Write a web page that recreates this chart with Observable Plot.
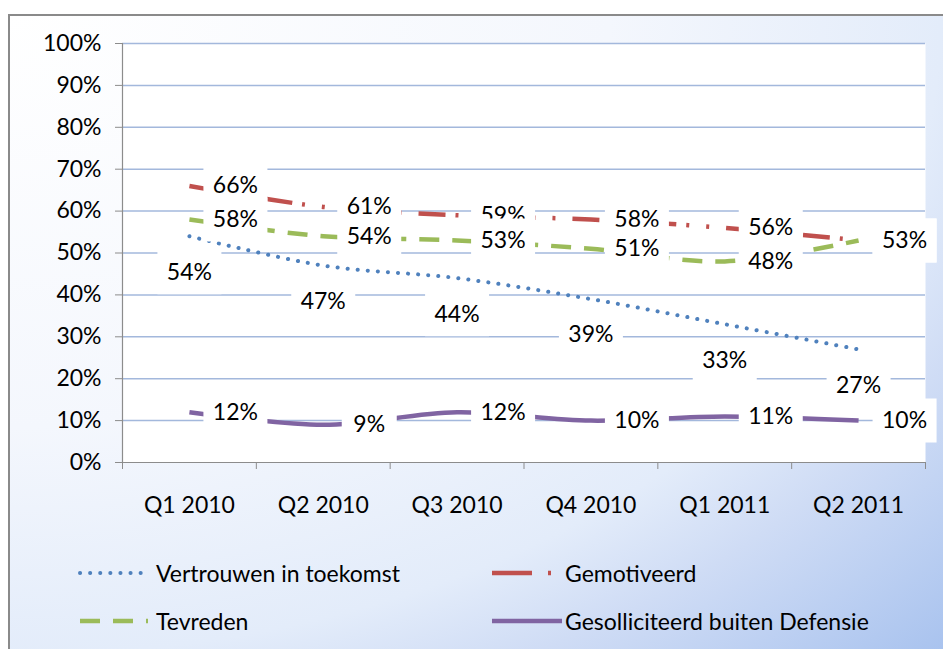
<!DOCTYPE html>
<html>
<head>
<meta charset="utf-8">
<script src="https://cdn.jsdelivr.net/npm/d3@7"></script>
<script src="https://cdn.jsdelivr.net/npm/@observablehq/plot@0.6"></script>
<style>
  html, body { margin: 0; padding: 0; background: #fff; overflow: hidden; }
  body { width: 943px; height: 649px; position: relative; font-family: Lato, "Open Sans", sans-serif; }
  #frame {
    position: absolute; left: 8px; top: 14px; width: 945px; height: 650px;
    box-sizing: border-box; border: 2px solid #8a8a8a;
    background: radial-gradient(ellipse farthest-corner at top left, #ffffff 0%, #f4f7fd 45%, #e3ecfa 70%, #cfdcf5 80%, #a6c1ee 100%);
  }
  #frame svg { position: absolute; left: 0; top: 0; overflow: visible; }
  .leg { position: absolute; display: flex; align-items: center; font-size: 23px; color: #000; white-space: nowrap; }
  .leg svg { position: static !important; }
</style>
</head>
<body>
<div id="frame"></div>
<script>
const quarters = ["Q1 2010", "Q2 2010", "Q3 2010", "Q4 2010", "Q1 2011", "Q2 2011"];
const vertrouwen = [0.54, 0.47, 0.44, 0.39, 0.33, 0.27];
const gemotiveerd = [0.66, 0.61, 0.59, 0.58, 0.56, 0.53];
const tevreden = [0.58, 0.54, 0.53, 0.51, 0.48, 0.53];
const gesolliciteerd = [0.12, 0.09, 0.12, 0.10, 0.11, 0.10];
const seriesNames = ["Vertrouwen in toekomst", "Gemotiveerd", "Tevreden", "Gesolliciteerd buiten Defensie"];
const yTicks = [0, 0.1, 0.2, 0.3, 0.4, 0.5, 0.6, 0.7, 0.8, 0.9, 1];

const styles = {
  "Vertrouwen in toekomst": {stroke: "#4f81bd", dash: "0.1 10", cap: "round", width: 4, label: "below"},
  "Gemotiveerd": {stroke: "#c0504d", dash: "27 10 3 17 3 17", cap: "butt", width: 4.5, label: "right"},
  "Tevreden": {stroke: "#9bbb59", dash: "20 13", cap: "butt", width: 4.5, label: "right"},
  "Gesolliciteerd buiten Defensie": {stroke: "#8064a2", dash: null, cap: "butt", width: 4.5, label: "right"}
};
const values = [vertrouwen, gemotiveerd, tevreden, gesolliciteerd];
const data = seriesNames.map((name, s) => values[s].map((v, i) => ({name, i, q: quarters[i], v})));

const fmt = d3.format(".0%");
const boxSym = (w, h) => ({draw(ctx) { ctx.rect(-w / 2, -h / 2, w, h); }});

const marks = [
  Plot.frame({fill: "white", stroke: null}),
  Plot.ruleY(yTicks.filter(d => d > 0), {stroke: "#a3b8dc", strokeWidth: 1.5}),
  Plot.ruleY([0], {stroke: "#8c8c8c", strokeWidth: 1.2}),
  Plot.ruleX([-0.5], {stroke: "#8c8c8c", strokeWidth: 1.2}),
  Plot.axisY({ticks: yTicks, tickFormat: d3.format(".0%"), tickSize: 7, tickPadding: 14, stroke: "#8c8c8c", fontSize: 23, label: null}),
  Plot.axisX({ticks: d3.range(-0.5, 6, 1), tickFormat: () => "", tickSize: 7, stroke: "#8c8c8c", label: null}),
  Plot.axisX({ticks: d3.range(0, 6), tickFormat: i => quarters[i], tickSize: 0, tickPadding: 34, fontSize: 23, label: null})
];

data.forEach(d => {
  const st = styles[d[0].name];
  marks.push(Plot.line(d, {x: "i", y: "v", stroke: st.stroke, strokeWidth: st.width, strokeDasharray: st.dash, strokeLinecap: st.cap, curve: "catmull-rom"}));
});

data.forEach(d => {
  const st = styles[d[0].name];
  const dx = st.label === "right" ? 46 : 0;
  const dy = st.label === "below" ? 36 : 0;
  const wide = d.filter(p => fmt(p.v).length > 2);
  const narrow = d.filter(p => fmt(p.v).length <= 2);
  marks.push(Plot.dot(wide, {x: "i", y: "v", symbol: boxSym(64, 44), fill: "white", stroke: null, dx, dy}));
  marks.push(Plot.dot(narrow, {x: "i", y: "v", symbol: boxSym(55, 44), fill: "white", stroke: null, dx, dy}));
  marks.push(Plot.text(d, {x: "i", y: "v", text: p => fmt(p.v), dx, dy, fontSize: 23, fill: "#000", textAnchor: "middle"}));
});

const chart = Plot.plot({
  width: 930,
  height: 515,
  marginLeft: 112,
  marginRight: 15,
  marginTop: 27,
  marginBottom: 69,
  style: {background: "transparent", fontFamily: "Lato, 'Open Sans', sans-serif", color: "#000", overflow: "visible"},
  x: {type: "linear", domain: [-0.5, 5.5]},
  y: {domain: [0, 1]},
  marks
});
const frame = document.getElementById("frame");
frame.appendChild(chart);

// legend below the plot
const legendItems = [
  {name: seriesNames[0], left: 68, top: 557, sw: 72, gap: 6},
  {name: seriesNames[1], left: 480, top: 557, sw: 72, gap: 3},
  {name: seriesNames[2], left: 68, top: 605, sw: 72, gap: 6},
  {name: seriesNames[3], left: 480, top: 605, sw: 74, gap: 1}
];
legendItems.forEach(item => {
  const st = styles[item.name];
  const div = document.createElement("div");
  div.className = "leg";
  div.style.left = item.left + "px";
  div.style.top = (item.top - 16) + "px";
  div.style.height = "32px";
  const sw = item.sw;
  const dash = st.dash ? (item.name === seriesNames[1] ? "40 16 3 40" : st.dash) : null;
  div.innerHTML = `<svg width="${sw}" height="12" style="margin-right:${item.gap}px"><line x1="2" x2="${sw - 2}" y1="6" y2="6" stroke="${st.stroke}" stroke-width="${st.width}" stroke-linecap="${st.cap}" ${dash ? `stroke-dasharray="${dash}"` : ""}/></svg><span>${item.name}</span>`;
  frame.appendChild(div);
});
</script>
</body>
</html>
